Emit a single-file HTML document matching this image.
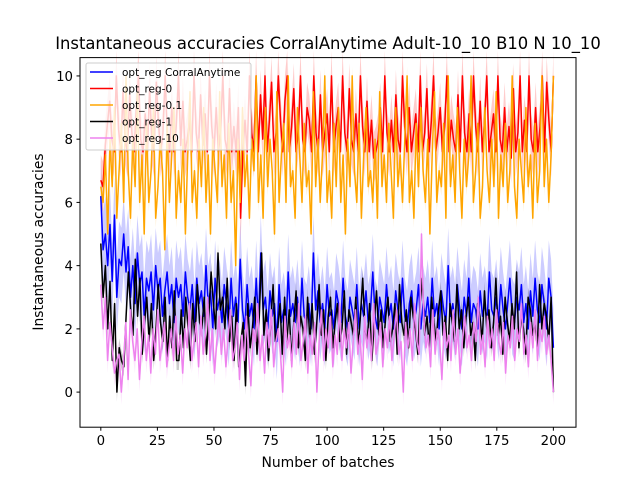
<!DOCTYPE html>
<html><head><meta charset="utf-8">
<style>body{margin:0;background:#fff}svg{display:block;font-family:"DejaVu Sans","Liberation Sans",sans-serif}</style>
</head><body>
<svg id="chart" width="640" height="480" viewBox="0 0 640 480">
<rect width="640" height="480" fill="#fff"/>
<g id="bands"></g>
<g id="lines"></g>
<rect x="80" y="57.6" width="496" height="369.6" fill="none" stroke="#000" stroke-width="1"/>
<g id="axes"></g>
<text x="328" y="49" text-anchor="middle" font-size="16.4">Instantaneous accuracies CorralAnytime Adult-10_10 B10 N 10_10</text>
<text x="328" y="467" text-anchor="middle" font-size="13.9">Number of batches</text>
<text transform="translate(43,242) rotate(-90)" text-anchor="middle" font-size="13.9">Instantaneous accuracies</text>
<g id="legend"></g>
</svg>
<script>
const xTicks=[0,25,50,75,100,125,150,175,200];
const yTicks=[0,2,4,6,8,10];
const seriesNames=["opt_reg CorralAnytime","opt_reg-0","opt_reg-0.1","opt_reg-1","opt_reg-10"];
const seriesColors=["#0000ff","#ff0000","#ffa500","#000000","#ee82ee"];
const bandWidths=[1.2,0.8,0.3,0.3,0.4];
const blueVals=[6.2,4.5,5,4,5.3,3.5,5.6,3,4.2,4,5,3.8,4.6,3,4,2.8,4.4,3.4,3.8,2.4,3.6,3.2,3.8,2.6,4,3.2,3.6,2.4,3.2,3.8,2.8,3.4,2.2,3.6,3,3.4,2.4,3.8,3,2.6,3.4,2.2,3.6,2.8,3.2,2.4,4,2.8,3.2,2,3.6,2.6,3,2.2,3.4,2.8,2,3.6,2.4,3,2.2,4.2,2.6,2,3.4,2.4,2.8,2,3.6,2.2,4.4,2.6,3,2,3.2,2.4,2.8,1.6,3.4,2.2,2.6,2,3.8,2.4,2.8,2.2,3,2,3.6,2.4,2.2,2.8,2,4.4,2.6,3.2,2.2,2.8,2,3.4,2.4,2.6,2,3.2,2.8,2.2,3.6,2.4,2,3,2.6,2.2,3.4,2,2.8,2.4,3.2,2.2,2.6,3.8,2.4,2,3,2.6,2.2,3.4,2.4,2.8,2,3.2,2.6,2.2,3.6,2.4,2,2.8,3.2,2.2,2.6,3.4,2,2.8,2.4,3,2.2,3.6,2.4,2.8,2,3.2,2.6,2.2,4,2.4,2.8,2.2,3.4,2.6,2,3,2.4,3.6,2.2,2.8,2.6,2,3.2,2.4,2.8,2.2,3.8,2.6,2.4,3,2.2,3.4,2.6,2,2.8,3.6,2.4,2.2,3,2.6,3.4,2.2,2.8,2,3.2,2.4,3.6,2.6,2.2,3.4,2.8,2,3.6,3,1.4];
const redVals=[6.7,6.5,7.8,8.5,9.2,8,7.6,10,8.3,7.6,9.5,8,7.6,9.4,8.2,7.6,9,10,8,7.6,8.8,7.6,9.6,8,7.6,9.8,8.5,7.6,8.2,10,8,7.6,9,7.6,8.4,10,7.8,9.2,7.6,8,8.6,7.6,10,8.2,7.6,9.4,7.8,8.8,7.6,10,8.4,7.6,9,7.6,8.2,10,8,7.6,9.6,7.6,8.4,7.6,9,5.5,7.6,8.6,7.6,10,8.2,7.6,10,7.6,9.4,8,10,7.6,8.6,9.8,7.6,8.2,10,8.6,7.6,9.2,10,7.6,8.4,9.6,7.6,8.2,10,8,7.6,9,8.6,7.6,10,8.2,7.6,9.4,7.6,8.2,8.8,7.6,10,7.6,8.4,9,7.6,10,8.2,7.6,9.6,8,7.6,8.8,7.6,10,8.4,7.6,9.2,7.6,8.6,7.4,7.6,8,9,7.6,10,8.2,7.6,8.6,7.6,9.4,8,7.6,10,8.4,7.6,9,7.6,8.2,8.8,7.6,10,7.6,8.2,9.6,7.6,8.6,10,7.6,8.2,9,7.6,8.4,10,7.6,8.6,8,7.6,9.4,7.6,10,8.2,7.6,8.8,7.6,10,8.4,7.6,9.2,7.6,8.6,10,7.6,8.2,8.8,7.6,10,8,7.6,9,7.6,8.4,7.4,9.6,7.6,8.2,10,7.6,8.6,7.6,10,8,7.6,9,7.6,8.4,10,7.6,9.8,8.6,7.6,10];
const orangeVals=[6.5,6,7.5,5,8,6.5,9,5.5,7,8.5,6,10,7,5.5,8,6.5,9.5,6,7.5,5,8.5,6,7,9,5.5,6.5,8,7,4.5,8.5,6,7.5,9,5.5,7,6,8,5,7.5,9.5,6,7,5.5,8,6.5,9,6,7.5,5,8,7,6,9.5,6.5,7.5,5.5,8.5,6,7,4,8,6,9,6.5,7.5,5.5,8,7,10,6,7.5,5.5,9,6.5,8,7,5,9.5,6,7.5,8.5,6,10,6.5,7,5.5,9,7.5,6,8.5,6.5,7,5,9.5,6.5,8,6,7.5,10,6,7,5.5,8.5,6.5,9,6,7.5,5,8,6.5,10,7,6,8.5,5.5,7.5,9,6.5,7,6,8,5.5,9.5,6.5,7.5,6,8.5,7,5.5,9,6.5,7.5,6,8,10,6,7,5.5,8.5,6.5,9,7,6,8,5,7.5,9.5,6,7,6.5,8.5,5.5,10,6.5,7.5,6,9,7,5.5,8,6.5,7.5,10,6,7,8.5,5.5,6.5,9,7,6,8,6.5,9.5,5.5,7.5,6.5,8.5,6,7,10,6.5,5.5,8,7,6,9,6.5,7.5,5.5,8.5,6,7,10,6.5,8,6,7.5,10];
const blackVals=[4.7,3,4,2,3.5,1,2.8,0,1.4,1,0.8,2.4,3.8,2.6,1.8,4.2,2.4,3.6,1.2,2.2,3,1.6,2.8,1,2,3.4,2.2,1.6,3,1,2.4,1.4,3.2,1,1,2.6,1.4,3,2,1,2.8,1.6,3.4,2.2,2,3,1.2,2.4,3.8,2.8,2,4.4,2.6,3,2,3.6,1.6,2.4,1,2.8,0.8,1.6,2.2,0.2,2.8,1.4,2,3,1.2,2.4,4.4,1.8,2.6,1,2.2,3.4,1.6,2,2.8,1.2,3,1.6,2.6,1,2.2,3.2,1.4,2.4,2,1,3,1.6,2.8,1.2,2.2,3.4,1.8,2.6,1,2.4,3,1.4,2.2,2.8,1.6,2,3.2,1.2,2.6,2.2,1.8,3,1.4,2.4,3.6,2,1.6,2.8,1,2.2,3.2,1.8,2.6,1.4,2.4,3,1.6,2,2.8,1.2,3.4,2.2,1.8,2.6,1.4,3,2.4,2,1.2,2.8,3.6,1.8,2.4,1.4,3,2.2,1.6,2.6,3.2,1.8,2.4,1,2.8,2.2,1.6,3.4,2,2.6,1.4,2.4,3,1.8,2.2,1,2.8,2.4,1.6,3.2,2,2.6,1.4,2.2,3.6,1.8,2.4,1.2,3,2.2,1.6,2.8,2,3.8,1.4,2.4,2,1.2,3,2.6,1.8,2.2,1.4,3.4,2,2.8,2.4,1.6,3,0];
const violetVals=[3.4,2,3,1,2.2,1.4,0.6,1,1.2,0,1,2.2,0.4,2.6,1.6,1,2,0.4,1.6,2.4,1,1.8,0.6,2,1.2,2.6,1,1.6,2.2,0.8,1.4,2,1,2.4,1.2,1.8,0.6,2,1.4,2.8,1,1.6,2.2,0.8,2.4,1.2,1.8,3,1,2,0.6,1.6,2.4,1.2,2,0.8,1.8,2.6,1,1.4,2.2,0.4,1.8,1,2.4,1.2,0.2,2,1.6,2.8,1,1.8,0.6,2.2,1.4,2.6,0.8,1.6,2,1.2,0,2.4,1.4,1.8,0.8,2.2,1.2,2.8,1,1.6,2.4,0.6,1.8,1.2,2.2,0,1.6,2.6,1,2,1.4,2.4,0.8,1.8,1.2,2.8,1,2,1.4,2.2,0.6,1.6,2.6,1.2,1.8,0.4,2.4,1.4,2,1,2.8,1.2,1.6,2.2,0.8,2,1.4,2.4,1,1.8,2.6,1.2,1.6,0,2.2,1.4,2,1,2.8,1.6,1.2,5,2.4,1.4,1.8,0.8,2.6,1.2,2,1.6,0.4,2.2,1.4,1.8,1,2.6,1.2,2,0.6,1.6,2.4,1.4,1.8,1,2.2,1.6,3,1.2,1.8,0.8,2.4,1.4,2,1,2.6,1.6,1.2,2.2,0.6,1.8,1.4,2.4,1,2,1.6,2.8,1.2,1.8,0.8,2.2,1.4,2.6,1,2,1.6,2.4,1.2,1.8,1,0];

const NS="http://www.w3.org/2000/svg";
const X0=80,X1=576,Y0=57.6,Y1=427.2,XMIN=-9.2,XMAX=210,YMIN=-1.11,YMAX=10.58;
function xs(v){return X0+(v-XMIN)/(XMAX-XMIN)*(X1-X0);}
function ys(v){return Y1-(v-YMIN)/(YMAX-YMIN)*(Y1-Y0);}
function mk(tag,attrs,parent){const e=document.createElementNS(NS,tag);for(const k in attrs)e.setAttribute(k,attrs[k]);parent.appendChild(e);return e;}
const allVals=[blueVals,redVals,orangeVals,blackVals,violetVals];
const bandsG=document.getElementById('bands'),linesG=document.getElementById('lines');
function xPos(i,n){return xs(i*200/(n-1));}
allVals.forEach((vals,s)=>{
  const n=vals.length,w=bandWidths[s];
  let up=vals.map((v,i)=>xPos(i,n).toFixed(1)+","+ys(v+w).toFixed(1));
  let lo=vals.map((v,i)=>xPos(i,n).toFixed(1)+","+ys(v-w).toFixed(1)).reverse();
  const b=mk('polygon',{points:up.concat(lo).join(' '),fill:seriesColors[s],'fill-opacity':0.2,stroke:'none'},bandsG);
  
  
});
allVals.forEach((vals,s)=>{
  const n=vals.length;
  const pts=vals.map((v,i)=>xPos(i,n).toFixed(1)+","+ys(v).toFixed(1)).join(' ');
  const l=mk('polyline',{points:pts,fill:'none',stroke:seriesColors[s],'stroke-width':1.5,'stroke-linejoin':'round'},linesG);
  
  
});
const ax=document.getElementById('axes');
xTicks.forEach(t=>{
  const x=xs(t);
  const tk=mk('line',{x1:x,x2:x,y1:Y1,y2:Y1+3.5,stroke:'#000'},ax);
  
  
  const tx=mk('text',{x:x,y:Y1+18,'text-anchor':'middle','font-size':13.3},ax);
  tx.textContent=t;
  
  
});
yTicks.forEach(t=>{
  const y=ys(t);
  const tk=mk('line',{x1:X0-3.5,x2:X0,y1:y,y2:y,stroke:'#000'},ax);
  
  
  const tx=mk('text',{x:X0-7,y:y+5,'text-anchor':'end','font-size':13.3},ax);
  tx.textContent=t;
  
  
});
const lg=document.getElementById('legend');
mk('rect',{x:86,y:63,width:165,height:87,rx:2,fill:'#fff','fill-opacity':0.8,stroke:'#ccc'},lg);
seriesNames.forEach((nm,s)=>{
  const y=72+s*16.5;
  const ln=mk('line',{x1:90,x2:113,y1:y,y2:y,stroke:seriesColors[s],'stroke-width':1.5},lg);
  
  
  const tx=mk('text',{x:122,y:y+4,'font-size':10.5},lg);
  tx.textContent=nm;
  
  
});
</script>
</body></html>
